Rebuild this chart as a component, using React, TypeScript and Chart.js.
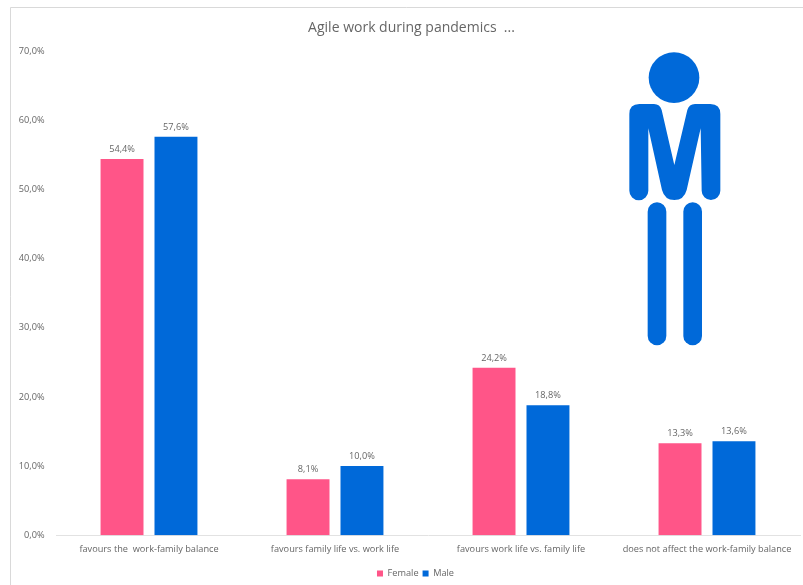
import React, { useEffect, useRef } from "react";
import { Chart, registerables } from "chart.js";

Chart.register(...registerables);

const categories = [
  "favours the  work-family balance",
  "favours family life vs. work life",
  "favours work life vs. family life",
  "does not affect the work-family balance",
];
const femaleValues = [54.4, 8.1, 24.2, 13.3];
const maleValues = [57.6, 10.0, 18.8, 13.6];
const titleText = "Agile work during pandemics  ...";

const PINK = "#FF5588";
const BLUE = "#0069D9";
const GREY = "#666666";
const FONT = '"Open Sans", "Noto Sans", sans-serif';

const formatPercent = (v: number) => v.toFixed(1).replace(".", ",") + "%";

// Frame lines on the left and top of the panel, the title, and the legend's offset
const framePlugin = {
  id: "frame",
  beforeDraw(chart: Chart) {
    const { ctx } = chart;
    ctx.save();
    ctx.fillStyle = "#ffffff";
    ctx.fillRect(0, 0, chart.width, chart.height);
    ctx.strokeStyle = "#d9d9d9";
    ctx.lineWidth = 1;
    ctx.beginPath();
    ctx.moveTo(10.5, chart.height);
    ctx.lineTo(10.5, 7.5);
    ctx.lineTo(chart.width, 7.5);
    ctx.stroke();

    ctx.font = `14px ${FONT}`;
    ctx.fillStyle = GREY;
    ctx.textAlign = "center";
    ctx.textBaseline = "middle";
    ctx.fillText(titleText, 411.5, 28);
    ctx.restore();

    const legend = chart.legend;
    if (legend) {
      legend.left = 14;
      legend.right = chart.width + 14;
      legend.top = chart.height - legend.height + 3;
      legend.bottom = chart.height + 3;
    }
  },
};

// Value captions above each bar
const valueLabelPlugin = {
  id: "valueLabels",
  afterDatasetsDraw(chart: Chart) {
    const { ctx } = chart;
    ctx.save();
    ctx.font = `9.2px ${FONT}`;
    ctx.fillStyle = GREY;
    ctx.textAlign = "center";
    ctx.textBaseline = "alphabetic";
    chart.data.datasets.forEach((ds, i) => {
      chart.getDatasetMeta(i).data.forEach((bar, j) => {
        ctx.fillText(formatPercent(ds.data[j] as number), bar.x, bar.y - 7);
      });
    });
    ctx.restore();
  },
};

// Standing male pictogram in the upper right of the panel
const figurePlugin = {
  id: "figure",
  afterDraw(chart: Chart) {
    const { ctx } = chart;
    ctx.save();
    ctx.translate(580, 30);
    ctx.scale(1 / 3, 1 / 3);
    ctx.fillStyle = BLUE;
    ctx.strokeStyle = BLUE;

    ctx.beginPath();
    ctx.arc(282, 143, 76, 0, Math.PI * 2);
    ctx.fill();

    ctx.beginPath();
    ctx.moveTo(148, 252);
    ctx.quadraticCurveTo(148, 222, 178, 222);
    ctx.lineTo(222, 222);
    ctx.quadraticCurveTo(240, 222, 245, 240);
    ctx.lineTo(283, 405);
    ctx.lineTo(322, 240);
    ctx.quadraticCurveTo(327, 222, 345, 222);
    ctx.lineTo(391, 222);
    ctx.quadraticCurveTo(421, 222, 421, 252);
    ctx.lineTo(421, 482);
    ctx.arc(393, 482, 28, 0, Math.PI);
    ctx.lineTo(362, 295);
    ctx.lineTo(320, 480);
    ctx.quadraticCurveTo(312, 510, 283, 510);
    ctx.quadraticCurveTo(254, 510, 246, 480);
    ctx.lineTo(205, 295);
    ctx.lineTo(205, 482);
    ctx.arc(176.5, 482, 28.5, 0, Math.PI);
    ctx.closePath();
    ctx.fill();

    ctx.lineCap = "round";
    ctx.lineWidth = 56;
    for (const x of [231, 338]) {
      ctx.beginPath();
      ctx.moveTo(x, 545);
      ctx.lineTo(x, 918);
      ctx.stroke();
    }
    ctx.restore();
  },
};

export default function App() {
  const ref = useRef<HTMLCanvasElement>(null);

  useEffect(() => {
    document.body.style.margin = "0";
    const chart = new Chart(ref.current!, {
      type: "bar",
      data: {
        labels: categories,
        datasets: [
          { label: "Female", data: femaleValues, backgroundColor: PINK },
          { label: "Male", data: maleValues, backgroundColor: BLUE },
        ],
      },
      plugins: [framePlugin, valueLabelPlugin, figurePlugin],
      options: {
        responsive: false,
        animation: false,
        layout: { padding: { left: 0, right: 3, top: 51, bottom: 0 } },
        datasets: { bar: { categoryPercentage: 0.58, barPercentage: 0.796 } },
        scales: {
          y: {
            min: 0,
            max: 70,
            ticks: {
              stepSize: 10,
              padding: 3.5,
              color: GREY,
              font: { family: FONT, size: 9.2 },
              callback: (v) => formatPercent(Number(v)),
            },
            grid: { display: false },
            border: { display: false },
            afterFit: (scale) => {
              scale.width = 56;
            },
          },
          x: {
            ticks: {
              color: GREY,
              font: { family: FONT, size: 9.2 },
              maxRotation: 0,
              autoSkip: false,
              padding: 8.5,
            },
            grid: { display: false, drawTicks: false },
            border: { color: "#e2e2e2", width: 1 },
            afterFit: (scale) => {
              scale.height = 26.5;
            },
          },
        },
        plugins: {
          title: { display: false },
          legend: {
            position: "bottom",
            labels: {
              color: GREY,
              font: { family: FONT, size: 9.2 },
              boxWidth: 6,
              boxHeight: 6,
              padding: 4,
            },
          },
          tooltip: { enabled: false },
        },
      },
    });
    return () => chart.destroy();
  }, []);

  return <canvas ref={ref} width={803} height={585} style={{ display: "block" }} />;
}
